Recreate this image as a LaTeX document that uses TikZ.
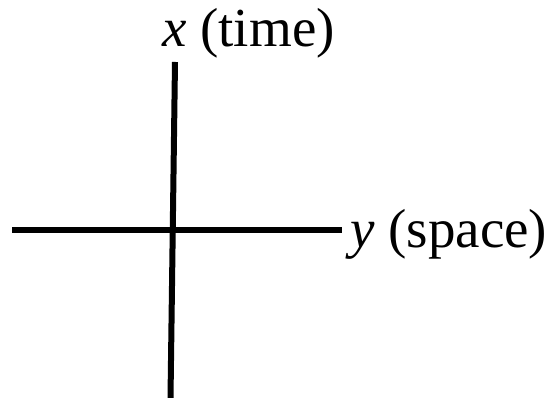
\documentclass[tikz,border=0pt]{standalone}
\usepackage{fontspec}
\setmainfont{Liberation Serif}
\begin{document}
\begin{tikzpicture}[x=1pt,y=1pt,
  axis/.style={line width=6pt},
  lbl/.style={inner sep=0pt,anchor=base west,font=\fontsize{55}{60}\selectfont}]
\useasboundingbox (0,0) rectangle (558,398);
\coordinate (vtop) at (175,336);
\coordinate (vbot) at (170.5,0);
\coordinate (hleft) at (12,167.5);
\coordinate (hright) at (342,167.5);
\draw[axis] (vtop) -- (vbot);
\draw[axis] (hleft) -- (hright);
\node[lbl] (xl) at (162,351) {\textit{x} (time)};
\node[lbl] (yl) at (350,150) {\textit{y} (space)};
\end{tikzpicture}
\end{document}
